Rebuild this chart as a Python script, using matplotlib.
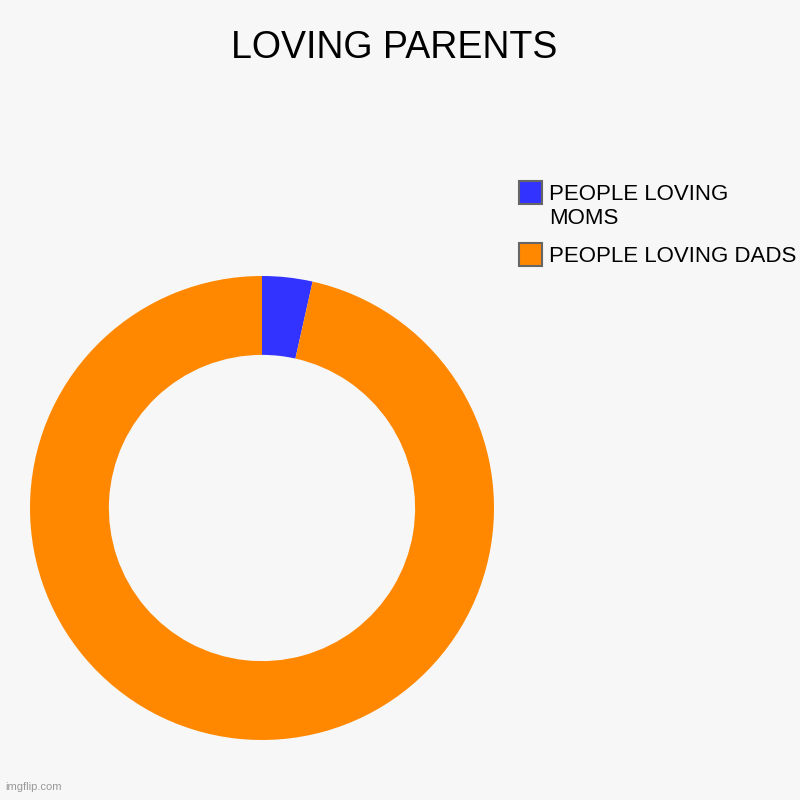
import matplotlib.pyplot as plt
from matplotlib.patches import Rectangle

plt.rcParams['font.family'] = ['Liberation Sans', 'DejaVu Sans']

# data
labels = ['PEOPLE LOVING MOMS', 'PEOPLE LOVING DADS']
legend_labels = ['PEOPLE LOVING\nMOMS', 'PEOPLE LOVING DADS']
values = [3.5, 96.5]
colors = ['#3333ff', '#ff8800']
bg = '#f7f7f7'

W = H = 800
fig = plt.figure(figsize=(8, 8), dpi=100, facecolor=bg)
ax = fig.add_axes([0.0375, 0.075, 0.58, 0.58])
ax.set_facecolor(bg)
ax.pie(values, labels=None, colors=colors, startangle=90, counterclock=False, radius=1,
       wedgeprops=dict(width=0.34, linewidth=0))
ax.set_xlim(-1, 1)
ax.set_ylim(-1, 1)
ax.set_aspect('equal')
ax.axis('off')

fig.text(0.4925, 1 - 58.3 / H, 'LOVING PARENTS', ha='center', va='baseline', fontsize=27)

# legend drawn by hand so the box lines up with the first text line
box = 23
for i, (lab, c) in enumerate(zip(legend_labels, colors)):
    top = 181 + 62 * i
    fig.patches.append(Rectangle((519 / W, 1 - (top + box) / H), box / W, box / H,
                                 transform=fig.transFigure, facecolor=c,
                                 edgecolor='#666666', linewidth=1.5))
    first, *rest = lab.split('\n')
    fig.text(549 / W, 1 - (top + 19) / H, first, fontsize=16, va='baseline', ha='left')
    for j, line in enumerate(rest, start=1):
        fig.text(549 / W, 1 - (top + 19 + 24 * j) / H, line, fontsize=16,
                 va='baseline', ha='left')

fig.text(0.007, 0.01, 'imgflip.com', fontsize=8, color='#999999', ha='left', va='bottom')

plt.savefig('out.png', dpi=100, facecolor=bg)
plt.close()
